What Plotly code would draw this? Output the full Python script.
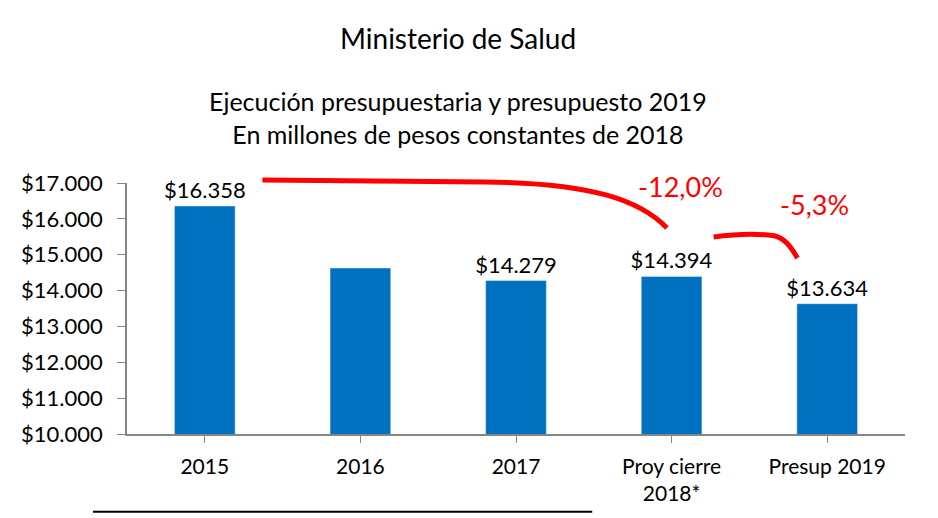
import plotly.graph_objects as go

categories = ["2015", "2016", "2017", "Proy cierre<br>2018*", "Presup 2019"]
values = [16358, 14629, 14279, 14394, 13634]
show_label = [True, False, True, True, True]
y_ticks = [10000, 11000, 12000, 13000, 14000, 15000, 16000, 17000]
changes = ["-12,0%", "-5,3%"]

Y0, Y1 = 10000, 17000
NCAT = len(categories)

def fmt(v):
    return "$" + f"{v:,}".replace(",", ".")

def px(x):
    return (x + 0.5) / NCAT

def py(y):
    return (y - Y0) / (Y1 - Y0)

labels = [fmt(v) if s else "" for v, s in zip(values, show_label)]
xpos = list(range(NCAT))
FONT = "Lato"

fig = go.Figure()
fig.add_trace(go.Bar(
    x=xpos, y=values, text=labels, textposition="outside", constraintext="none",
    textfont=dict(family=FONT, size=22, color="black"),
    marker=dict(color="#0070C0"), width=0.39, cliponaxis=False,
    hoverinfo="skip",
))

def path(cmds):
    out = []
    for c in cmds:
        if isinstance(c, str):
            out.append(c)
        else:
            out.append(f"{px(c[0]):.4f},{py(c[1]):.4f}")
    return " ".join(out)

# red curves (given in data coordinates, drawn in paper space so they are not clipped)
fig.add_shape(type="path", xref="paper", yref="paper",
              path=path(["M", (0.37, 17083), "L", (1.8, 17030), "C", (2.5, 17000), (2.8, 16500), (2.97, 15745)]),
              line=dict(color="#FF0000", width=5))
fig.add_shape(type="path", xref="paper", yref="paper",
              path=path(["M", (3.27, 15494), "C", (3.4, 15570), (3.55, 15590), (3.66, 15530),
                         "C", (3.74, 15450), (3.78, 15100), (3.81, 14908)]),
              line=dict(color="#FF0000", width=5))
fig.add_annotation(x=3.06, y=16916, text=changes[0], showarrow=False,
                   font=dict(family=FONT, size=27, color="#FF0000"))
fig.add_annotation(x=3.92, y=16414, text=changes[1], showarrow=False,
                   font=dict(family=FONT, size=27, color="#FF0000"))

# titles
fig.add_annotation(x=0.425, y=1.578, xref="paper", yref="paper", yanchor="middle",
                   text="Ministerio de Salud", showarrow=False,
                   font=dict(family=FONT, size=28, color="black"))
fig.add_annotation(x=0.425, y=1.259, xref="paper", yref="paper", yanchor="middle",
                   text="Ejecución presupuestaria y presupuesto 2019<br>En millones de pesos constantes de 2018",
                   showarrow=False, font=dict(family=FONT, size=25, color="black"))

# bottom rule
fig.add_shape(type="line", xref="paper", yref="paper", x0=-0.0437, x1=0.598,
              y0=-0.31, y1=-0.31, line=dict(color="black", width=2))

fig.update_layout(
    width=930, height=510,
    margin=dict(l=119, r=33, t=175, b=84),
    paper_bgcolor="white", plot_bgcolor="white",
    showlegend=False,
    font=dict(family=FONT, color="black"),
    xaxis=dict(
        tickmode="array", tickvals=xpos, ticktext=categories,
        range=[-0.5, NCAT - 0.5], showline=True, linecolor="#868686", linewidth=1.5,
        ticks="outside", ticklen=7, tickcolor="#868686", tickson="boundaries",
        ticklabelstandoff=6,
        showgrid=False, zeroline=False, tickfont=dict(family=FONT, size=21),
    ),
    yaxis=dict(
        range=[Y0, Y1], tickvals=y_ticks,
        ticktext=[fmt(v) for v in y_ticks],
        showline=True, linecolor="#868686", linewidth=1.5,
        ticks="outside", ticklen=8, tickcolor="#868686",
        ticklabelstandoff=10,
        showgrid=False, zeroline=False, tickfont=dict(family=FONT, size=22),
    ),
)

fig.write_html("out.html")
